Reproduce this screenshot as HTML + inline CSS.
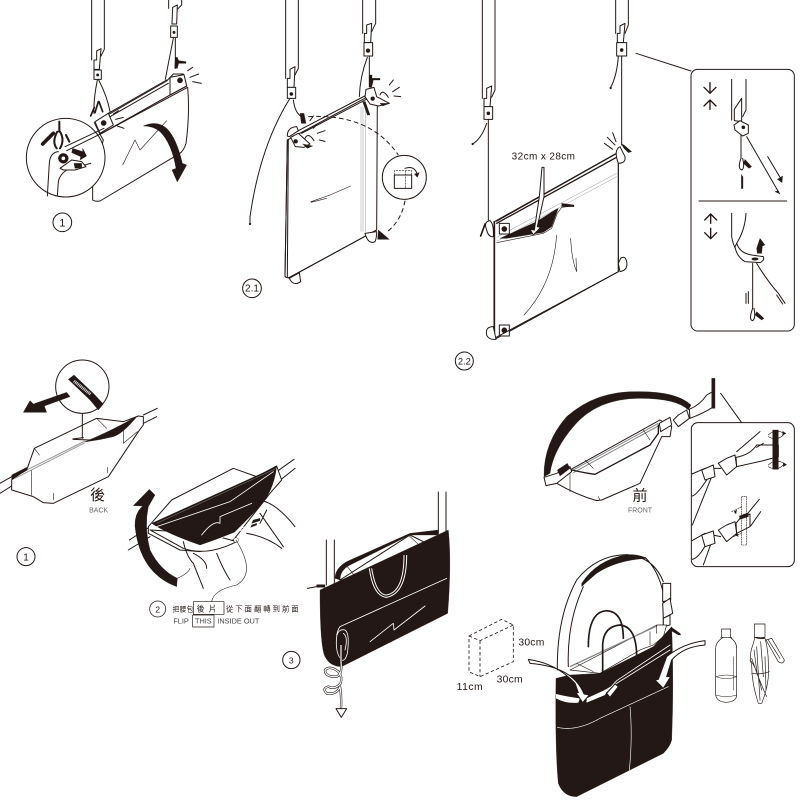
<!DOCTYPE html>
<html><head><meta charset="utf-8"><style>
html,body{margin:0;padding:0;background:#fff}
svg{display:block}
.s{fill:none;stroke:#231815;stroke-width:3;stroke-linecap:round;stroke-linejoin:round}
.t{fill:none;stroke:#231815;stroke-width:1.8;stroke-linecap:round;stroke-linejoin:round}
.w{fill:#fff;stroke:#231815;stroke-width:3;stroke-linejoin:round}
.k{fill:#231815;stroke:#231815;stroke-width:1;stroke-linejoin:round}
.l{fill:none;stroke:#fff;stroke-width:2.5;stroke-linecap:round;stroke-linejoin:round}
.g{fill:none;stroke:#999;stroke-width:1.5}
.d{fill:none;stroke:#231815;stroke-width:3;stroke-dasharray:14 9}
text{font-family:"Liberation Sans","Noto Sans CJK TC",sans-serif;fill:#231815}
</style></head><body>
<svg width="800" height="800" viewBox="0 0 800 800" xmlns="http://www.w3.org/2000/svg">

<!-- STEP 1 -->
<g transform="scale(.33333)">
<path class="s" d="M275 0V180M313 0V148L303 168M506 0V25M545 0V15L532 28"/>
<path class="w" d="M282 180V208H298L303 146L290 153V180Z"/>
<path class="w" d="M282 210H304V238H282Z"/>
<path class="w" d="M518 22L532 15L530 72L516 72Z"/>
<path class="w" d="M512 78H532V112H512Z"/>
<circle class="k" cx="293" cy="225" r="4"/><circle class="k" cx="522" cy="97" r="4"/>
<path class="s" d="M292 240Q280 300 282 340M296 240Q322 290 330 335M520 115Q505 190 496 238M526 115V205"/>
<path class="k" d="M526 172L532 172L536 182L558 185V190L536 190L532 205L524 205Z"/>
<path class="w" d="M300 403L563 262Q570 340 558 430Q552 450 540 460L300 603Q285 605 278 600L278 540L310 420Z"/>
<path class="w" d="M283 368L500 243L520 222L550 222L560 258L510 285L300 403Z"/>
<path class="s" d="M325 340L500 240M330 350L505 250"/>
<path class="w" d="M510 232L552 224L560 258L510 285Z"/>
<path class="w" d="M285 365L325 340L340 375L300 400Z"/>
<circle class="k" cx="540" cy="241" r="8"/><circle class="k" cx="311" cy="369" r="8"/>
<path class="s" d="M295 305L285 338M297 305L308 335M283 322L272 348" style="stroke-width:5"/>
<path class="s" d="M340 342L355 332M347 358L370 352M352 378L372 385M563 212L578 202M570 232L596 222M578 245L604 250"/>
<path class="t" d="M368 495L405 420L420 450L500 362"/>
<path class="k" d="M430 378Q470 360 500 385Q530 415 547 490L560 495L532 546L516 510L528 505Q515 430 480 395Q460 378 430 378Z"/>
<circle class="w" cx="197" cy="473" r="118"/>
<path class="s" d="M142 588L148 490Q150 458 175 455M172 588L175 545Q178 525 200 510L272 490M195 440L312 385M200 452L315 395"/>
<circle class="k" cx="190" cy="475" r="15"/><circle class="w" cx="190" cy="475" r="7"/>
<path class="s" d="M178 365V395M172 395Q155 425 170 445M180 395Q195 420 180 445M198 405L208 425" style="stroke-width:6"/>
<path class="s" d="M160 400L128 432" style="stroke-width:11"/>
<path class="k" d="M218 445L248 455L248 445L260 468L240 480L242 470L215 458Z"/>
<path class="w" d="M180 505L215 480L245 485L258 500L225 510L190 510Z"/>
<path class="k" d="M222 490L245 490L245 503L225 505Z"/>
<circle cx="187" cy="667" r="28" class="s"/>
<text x="187" y="679" text-anchor="middle" font-size="32">1</text>
</g>

<!-- STEP 2.1 -->
<g transform="translate(230,0) scale(.33333)">
<path class="s" d="M167 0V235M205 0V205L195 225M398 0V100M437 0V70L425 95"/>
<path class="w" d="M172 235V262L192 262L195 200L180 208V235Z"/>
<path class="w" d="M172 262H197V295H172Z"/>
<path class="w" d="M403 100V128L422 128L425 70L410 75V100Z"/>
<path class="w" d="M402 128H428V168H402Z"/>
<circle class="k" cx="184" cy="282" r="5"/><circle class="k" cx="414" cy="152" r="6"/>
<path class="s" d="M178 298Q90 440 60 650V672M190 300Q195 340 215 350M412 172Q390 230 388 290M418 170V225"/>
<path class="k" d="M210 340H222L228 370L214 370ZM417 225H426V235H450V240H430L425 262H417Z"/>
<circle class="k" cx="60" cy="672" r="3"/>
<path class="w" d="M172 420L410 292L442 300L440 690L180 832Q168 835 165 828Z"/>
<path class="g" d="M393 320V695M399 320V695M407 320V695"/>
<path class="s" d="M172 420L165 828M175 420L172 830M175 834L440 690"/>
<path class="s" d="M205 392L410 285M215 400L415 295"/>
<path class="w" d="M172 408Q172 382 200 380L205 392L178 410Z"/>
<path class="w" d="M182 412L205 400L240 432L222 442L196 440Z"/>
<path class="w" d="M408 268L432 262L440 290L478 310L445 318L420 312L405 290Z"/>
<circle class="k" cx="197" cy="424" r="6"/><circle class="k" cx="428" cy="296" r="6"/>
<path class="k" d="M218 432L248 438L232 445ZM450 310L478 310L458 318ZM398 305L406 305L420 345L412 345Z"/>
<path class="s" d="M225 415Q235 395 252 422M450 285Q458 265 475 292M240 362L250 348M250 385L262 372M262 400L285 392M268 420L285 424M478 255L490 240M488 275L508 262M492 288L512 290"/>
<path class="t" d="M243 605L300 585L362 558M243 607L290 595"/>
<path class="w" d="M405 700Q415 735 435 725Q440 715 440 695Z"/>
<path class="w" d="M178 835Q190 860 212 845Q210 830 208 818Z"/>
<path class="d" d="M235 350Q420 340 505 465M525 602Q515 660 472 695"/>
<path class="k" d="M445 690L478 718L443 718Z"/>
<circle class="w" cx="523" cy="532" r="66"/>
<path class="s" d="M493 525H545V565H493Z"/>
<path class="t" d="M493 525V512H545V525M527 512V565" style="stroke-dasharray:5 4"/>
<path class="s" d="M525 505Q555 495 562 525"/>
<path class="k" d="M553 522L568 518L562 532Z"/>
<circle cx="66" cy="865" r="28" class="s"/>
<text x="66" y="875" text-anchor="middle" font-size="30">2.1</text>
</g>

<!-- STEP 2.2 and panel -->
<g transform="translate(450,0) scale(.33333)">
<path class="s" d="M97 0V295M135 0V270L125 292M497 0V100M535 0V75L525 100"/>
<path class="w" d="M102 295V320L120 320L125 258L110 265V295Z"/>
<path class="w" d="M102 320H128V358H102Z"/><circle class="k" cx="115" cy="340" r="5"/>
<path class="w" d="M502 100V128L520 128L525 70L510 78V100Z"/>
<path class="w" d="M500 128H530V168H500Z"/><circle class="k" cx="515" cy="150" r="5"/>
<path class="s" d="M115 358V660M515 168V435M110 370Q95 415 68 432M505 170Q500 230 482 262"/>
<circle class="k" cx="68" cy="432" r="3"/><circle class="k" cx="482" cy="264" r="3"/>
<path class="w" d="M133 665L500 460L505 480V815L140 1015L133 1015Z"/>
<path class="s" d="M133 665V1015" style="stroke-width:5"/>
<path class="s" d="M140 663L500 460M140 670L503 470" style="stroke-width:4"/>
<path class="g" d="M140 712L500 520M140 724L500 530"/>
<path class="k" d="M150 715L260 665L315 630L325 625L305 680L280 697L170 715Z"/>
<path class="t" d="M140 728L280 700L305 685L322 640L335 622L372 618"/>
<path class="k" d="M335 610L372 615V620L335 620Z"/>
<path class="w" d="M253 690L268 590L276 502H282L282 590L262 680L272 682L250 705L240 688Z"/>
<path class="w" d="M148 670H178V702H148ZM148 975H178V1008H148Z"/>
<circle class="k" cx="163" cy="687" r="8"/><circle class="k" cx="163" cy="991" r="8"/>
<path class="s" d="M133 1015L505 815M505 480V815"/>
<path class="w" d="M110 690Q100 665 120 662Q132 672 130 710Q115 712 110 690Z"/>
<path class="s" d="M105 672L92 708" style="stroke-width:5"/>
<path class="w" d="M110 1005Q105 980 130 980L138 1018Q115 1020 110 1005Z"/>
<path class="w" d="M505 490Q528 490 525 470L510 440Q490 450 505 490Z"/>
<path class="w" d="M510 815Q535 810 530 785Q525 765 512 775L505 790Z"/>
<path class="k" d="M514 432L522 435L545 455L535 458L522 445Z"/>
<path class="s" d="M463 430L488 448M472 412L495 435M488 398L498 425"/>
<path class="t" d="M222 945Q310 850 320 705M362 715Q365 780 380 815L378 775"/>
<text x="185" y="479" font-size="30" textLength="190">32cm x 28cm</text>
<circle cx="43" cy="1083" r="27" class="s"/>
<text x="43" y="1093" text-anchor="middle" font-size="28">2.2</text>
<path class="s" d="M558 160L723 213"/>
<rect x="723" y="208" width="310" height="785" rx="20" class="w"/>
<path class="s" d="M747 603H1010"/>
<path class="s" d="M780 248V280M780 300V328M762 262L780 280L798 262M762 318L780 300L798 318" style="stroke-width:4"/>
<path class="s" d="M782 642V670M782 685V716M764 660L782 642L800 660M764 698L782 716L800 698" style="stroke-width:4"/>
<path class="s" d="M845 238V360M888 238V330L878 350"/>
<path class="w" d="M853 362V328L875 295V365Z"/>
<path class="w" d="M852 375L870 362L895 375L895 400L878 408L855 390Z"/>
<circle class="k" cx="880" cy="382" r="5"/>
<path class="s" d="M873 405V475M890 410L985 575M875 525V565M878 530V565M953 470L992 535"/>
<path class="k" d="M975 575L985 572L990 582Z M982 538L998 528L996 548Z"/>
<path class="s" d="M873 475Q862 505 875 510Q885 505 878 475"/>
<path class="k" d="M885 478L905 500L897 505L880 490Z"/>
<path class="s" d="M845 640V710Q850 735 856 745M888 640Q885 690 860 730"/>
<path class="w" d="M855 740Q860 770 885 785L930 788Q945 780 940 770L905 765Q870 760 860 730Z"/>
<ellipse class="k" cx="915" cy="777" rx="10" ry="4"/>
<path class="k" d="M920 745L930 715L945 735L937 738L935 760L922 760Z"/>
<path class="s" d="M908 790V925M920 790Q950 840 985 880M888 880V910M895 875V910M985 880L1005 910M980 885L998 912"/>
<path class="s" d="M908 925Q895 960 908 962Q918 955 912 925"/>
<path class="k" d="M920 935L942 955L935 960L915 945Z"/>
</g>

<!-- STEP BACK + FLIP -->
<g transform="translate(0,360) scale(.33333)">
<path class="s" d="M0 370L35 350M0 400L40 375M430 165L472 145M430 190L470 170"/>
<path class="w" d="M35 360L82 325L103 265L290 175L370 185L415 168L430 170L430 195L415 215L325 350L160 430L130 428L100 410L35 390Z"/>
<path class="t" d="M103 265L118 285M95 330V405M370 210V250L412 215M160 400V420M322 322V338M290 175L320 205"/>
<path class="g" d="M40 350L255 243M45 355L255 248" style="stroke-width:3"/>
<path class="k" d="M255 245Q330 215 412 168Q370 220 340 230Q300 240 260 245Z"/>
<path class="k" d="M35 345L80 322L82 330L35 358Z"/>
<path class="s" d="M218 237L250 233M220 238L270 240"/>
<circle class="w" cx="247" cy="80" r="80"/>
<path class="s" d="M247 160V235"/>
<path class="k" d="M205 58L222 45L280 100L310 132L295 150L270 120Z"/>
<path d="M222 63L272 103" style="stroke:#ddd;stroke-width:9;stroke-dasharray:3 2;fill:none"/>
<path class="k" d="M200 97L210 110L133 138L140 157L70 157L90 122L100 132Z"/>
<text x="293" y="420" text-anchor="middle" font-size="45">後</text>
<text x="296" y="457" text-anchor="middle" font-size="21" style="fill:#666">BACK</text>
<circle cx="78" cy="590" r="27" class="s"/>
<text x="78" y="601" text-anchor="middle" font-size="30">1</text>

<path class="s" d="M385 570L450 530M388 540L450 500M830 335L882 298M835 365L885 325"/>
<path class="w" d="M445 500L515 420L700 325L770 350L830 318L845 360L810 400L700 540L600 575L540 570L445 520Z"/>
<path class="w" d="M590 435L610 465L598 470M680 392L695 425L685 430"/>
<path class="w" d="M450 510L550 565Q620 590 710 545L620 520Z"/>
<path class="k" d="M455 490L830 320Q820 400 770 450L700 520L600 555Q500 520 455 490Z"/>
<path class="l" d="M470 500L690 425L820 335M605 525Q640 480 660 490L660 470L755 430M610 555L750 500M640 550Q650 540 660 550M720 510Q730 495 745 505"/>
<path class="g" d="M470 490L830 325" style="stroke:#888"/>
<path class="s" d="M780 420Q830 430 885 500M780 460L850 560M800 450L780 490M740 520Q800 530 845 565"/>
<path class="s" d="M550 545Q560 590 580 610L610 685M580 580Q620 600 620 625M650 580Q670 630 690 660"/>
<path class="k" d="M760 480L780 475V482L755 490ZM755 495L770 490V495L752 502Z"/>
<path class="k" d="M530 680Q420 640 405 500Q403 460 428 438L400 437L448 388L465 405L445 440Q432 500 450 570Q480 630 532 655Z"/>
<path class="t" d="M532 655Q565 640 570 625"/>
<circle class="w" cx="708" cy="540" r="7" style="stroke-width:1.5"/>
<path class="t" d="M708 540Q770 640 710 675Q640 690 635 725"/>
<circle cx="473" cy="747" r="24" class="s" style="stroke-width:2.2"/>
<text x="473" y="757" text-anchor="middle" font-size="26">2</text>
<text x="518" y="755" font-size="20" letter-spacing="1">把腰包</text>
<rect x="580" y="725" width="92" height="38" class="t" style="stroke-width:2"/>
<rect x="578" y="765" width="64" height="36" class="t" style="stroke-width:2"/>
<text x="590" y="755" font-size="24" letter-spacing="12">後片</text>
<text x="678" y="755" font-size="22" letter-spacing="6">從下面翻轉到前面</text>
<text x="520" y="791" font-size="22" style="fill:#444">FLIP</text>
<text x="585" y="791" font-size="22" style="fill:#444">THIS</text>
<text x="652" y="791" font-size="22" textLength="126" style="fill:#444">INSIDE OUT</text>
</g>

<!-- STEP 3 -->
<g transform="translate(270,480) scale(.33333)">
<path class="s" d="M169 180V315M193 180V315M505 36V160M528 36V160"/>
<path class="w" d="M210 300L420 165L470 190L500 170L300 300Z"/>
<path class="k" d="M195 295Q195 265 230 245L420 160L505 150V165L420 165L240 255Q210 270 210 300Z"/>
<path class="t" d="M228 255L252 285M415 165L445 193"/>
<path class="k" d="M150 330L535 150Q545 250 533 400L215 560Q180 560 165 530Q150 500 150 330Z"/>
<path class="l" d="M210 440L530 295M210 440Q205 445 200 465"/>
<path d="M298 265Q310 350 350 352Q410 340 410 225M305 265Q318 345 350 345Q402 335 402 225" fill="none" stroke="#fff" stroke-width="3"/>
<path class="l" d="M300 485L370 430L372 450L465 378"/>
<path class="l" d="M200 470Q205 445 225 450Q240 460 232 520Q225 545 215 540Q195 520 200 470ZM220 460Q235 470 225 510"/>
<path class="s" d="M112 325L160 316"/>
<path class="k" d="M140 314L165 314V322L140 322Z"/>
<path d="M213 495V545Q218 590 195 590Q165 590 165 570Q180 555 205 575Q218 590 212 610Q195 630 175 620Q155 625 170 640Q200 645 210 620Q215 650 213 685" fill="none" stroke="#231815" stroke-width="7"/>
<path d="M213 495V545Q218 590 195 590Q165 590 165 570Q180 555 205 575Q218 590 212 610Q195 630 175 620Q155 625 170 640Q200 645 210 620Q215 650 213 685" fill="none" stroke="#fff" stroke-width="3.5"/>
<path class="w" d="M198 686H230L214 712Z"/>
<circle cx="64" cy="540" r="26" class="s"/>
<text x="64" y="550" text-anchor="middle" font-size="26">3</text>
</g>

<!-- FRONT -->
<g transform="translate(530,370) scale(.33333)">
<path class="k" d="M42 320Q40 220 110 140Q200 60 330 65Q440 65 483 105L475 120Q440 85 330 85Q200 85 130 170Q70 240 60 310Z"/>
<path class="w" d="M80 335L120 300L390 150L425 170L420 200L395 200L330 340L215 390L200 392Q140 375 80 340Z"/>
<path class="g" d="M130 300L385 160M130 308L390 165" style="stroke-width:3;stroke:#888"/>
<path class="s" d="M125 300Q170 310 195 313L360 225L385 190V165" style="stroke-width:4"/>
<path class="t" d="M120 305V365M340 180L360 210M165 270L190 295M205 380L210 390"/>
<path class="w" d="M42 322L80 310L120 290L125 305L80 340L48 347Z"/>
<path class="k" d="M82 300L112 280L120 295L90 318Z"/>
<path class="w" d="M388 160L420 142L425 165L392 185Z"/>
<path class="w" d="M430 150L445 135L470 120L478 145L445 170Z"/>
<path class="w" d="M478 118Q510 105 530 75L548 65V112Q520 130 480 145Z"/>
<path class="k" d="M545 25H555V115H545Z"/>
<path class="s" d="M572 70L635 158"/>
<text x="330" y="392" text-anchor="middle" font-size="45">前</text>
<text x="330" y="428" text-anchor="middle" font-size="21" style="fill:#666">FRONT</text>
<rect x="484" y="158" width="309" height="432" rx="20" class="w"/>
<path class="s" d="M486 312L525 295L572 295M486 512L525 490L572 500M530 330Q500 375 487 378M545 320L487 465M530 520Q505 565 487 568M545 515L520 585"/>
<path class="w" d="M515 300L550 285L555 320L525 330Z"/><path class="w" d="M515 495L550 483L555 520L525 530Z"/>
<path class="w" d="M565 280L590 265L615 255L620 290L590 315Z"/><path class="w" d="M565 480L590 465L615 455L620 490L590 515Z"/>
<path class="w" d="M618 262Q660 255 680 225L745 225V260L700 272L620 290Z"/>
<path class="s" d="M620 245L690 185M680 232L700 220"/>
<path class="k" d="M728 180H745V298H728Z"/>
<path class="t" d="M715 195Q735 175 762 190M760 195Q740 215 715 200M715 285Q735 265 762 280M760 285Q740 305 715 290"/>
<path class="k" d="M758 184L768 190L758 196ZM760 278L770 284L760 290Z"/>
<path class="w" d="M618 460L630 445L660 432V470L620 490Z"/>
<path class="k" d="M628 438L655 428L655 440L630 448Z"/>
<path class="s" d="M655 428L688 388M662 468L692 425"/>
<path class="t" d="M635 380H650V525H635ZM605 425L635 410M610 500L635 490" style="stroke-dasharray:4 3"/>
<path class="k" d="M612 425L620 420L618 432ZM615 495L622 490L625 500Z"/>
</g>

<!-- BAG FINAL -->
<g transform="translate(450,550) scale(.33333)">
<path class="s" d="M322 360Q320 200 380 90Q440 15 530 14Q610 20 640 95M355 350Q350 220 400 110M585 22Q625 60 640 130V225"/>
<path class="k" d="M395 100Q440 30 530 14Q565 12 590 25Q500 30 440 70Q410 95 395 110Z"/>
<path class="w" d="M638 100L662 100L662 150L638 155Z"/>
<path class="w" d="M638 160L660 145L668 190L640 205Z"/>
<path class="w" d="M640 205L660 195L660 225L640 230Z"/>
<path class="s" d="M415 290Q415 185 470 182Q520 185 520 265" style="stroke-width:5"/>
<path class="w" d="M360 360L620 225L650 225L640 260L610 285L570 300L450 370Z" style="stroke-width:2"/>
<path class="g" d="M360 350L620 228" style="stroke:#888;stroke-width:4"/>
<path class="t" d="M380 340L430 365M600 245V285M620 225V250"/>
<path class="k" d="M318 385L360 375L450 370L610 290L665 230Q672 400 665 570Q660 590 640 610L380 740Q340 740 325 700Q315 600 318 385Z"/>
<path class="s" d="M458 370V285Q460 230 510 225Q560 230 560 320" style="stroke-width:5"/>
<path class="k" d="M665 232L690 250L692 255L685 255L660 240Z"/>
<path class="l" d="M410 455L500 400L660 300M470 425L500 392L660 285"/>
<path d="M318 432Q360 442 390 445L385 458Q350 462 318 445Z" fill="#fff"/>
<path d="M410 445L475 415L465 435L410 458Z" fill="#fff"/>
<path class="l" d="M322 532Q380 545 450 505L655 410M540 470Q548 560 538 660" style="stroke-width:2;stroke-dasharray:4 1.5"/>
<path class="w" d="M470 430L495 402L505 410L480 442Z"/>
<path class="w" d="M235 328Q320 340 375 400L385 428L378 428L398 458L418 435L402 432Q370 350 240 340Z"/>
<path class="w" d="M765 272Q700 280 650 320L625 388L615 390L640 415L662 380L650 380L665 330Q700 290 765 285Z"/>
<text x="205" y="287" font-size="31" textLength="78">30cm</text>
<text x="140" y="397" font-size="31" textLength="78">30cm</text>
<text x="20" y="420" font-size="31" textLength="78">11cm</text>
<path class="d" d="M57 258L155 208L190 225V335L90 380L57 365ZM57 258L90 272L190 225M90 272V380" style="stroke-width:2.5;stroke-dasharray:10 7"/>
<path class="t" d="M815 237H842V262H815ZM812 262H845M820 262Q798 275 797 295V435Q800 455 828 457Q860 455 860 435V295Q860 275 840 262" style="stroke-width:2"/>
<path class="t" d="M797 380Q830 370 860 380M797 380Q830 392 860 380M797 435Q830 445 860 435M850 320V420" style="stroke-width:1.5"/>
<path class="t" d="M913 222H945V262H913ZM915 262Q935 268 945 262M910 280Q895 320 905 345Q905 400 925 460H935Q960 400 955 340Q955 300 945 265Q925 268 915 262ZM905 370Q930 375 958 365M948 270L985 335Q1000 345 1003 330L965 265ZM955 270L990 325M920 290L930 450M905 325Q925 385 950 440M945 320L948 420M932 275L940 380M912 300L922 375M900 330Q920 350 935 420" style="stroke-width:2"/>
</g>
</svg>
</body></html>
